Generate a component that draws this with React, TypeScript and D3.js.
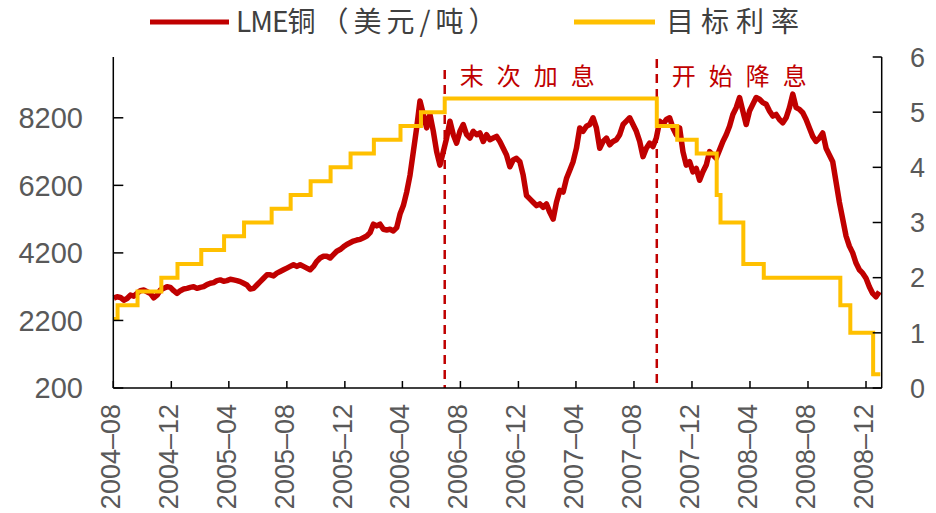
import React from 'react';
import * as d3 from 'd3';

const W = 936;
const H = 513;

// LME copper, weekly (USD/t), first week starting 2004-08-02
const copperStart = '2004-08-02';
const copper2004 = [2860, 2900, 2880, 2800, 2850, 2950, 2920, 3000, 3080, 3100, 3050, 3000, 2870, 2950, 3100, 3150, 3200, 3180, 3080, 3000, 3080, 3130];
const copper2005 = [3150, 3180, 3200, 3150, 3180, 3200, 3260, 3300, 3320, 3380, 3400, 3360, 3380, 3420, 3400, 3380, 3350, 3300, 3250, 3130, 3150, 3250, 3350, 3450, 3550, 3550, 3520, 3600, 3650, 3700, 3750, 3800, 3850, 3800, 3850, 3800, 3750, 3700, 3800, 3950, 4050, 4100, 4100, 4050, 4150, 4250, 4300, 4380, 4450, 4500, 4550, 4580];
const copper2006 = [4600, 4650, 4700, 4800, 5050, 5000, 5050, 4900, 4880, 4900, 4850, 4950, 5350, 5600, 6000, 6500, 7200, 7900, 8700, 8300, 7900, 8300, 7800, 7200, 6800, 7200, 7600, 8100, 7700, 7450, 7800, 8000, 7700, 7600, 7800, 7700, 7750, 7500, 7700, 7550, 7600, 7650, 7500, 7300, 7100, 6750, 6950, 7000, 6900, 6500, 5900, 5800];
const copper2007 = [5700, 5600, 5650, 5550, 5650, 5400, 5200, 5700, 6050, 6000, 6400, 6650, 6900, 7300, 7900, 7800, 7950, 8000, 8200, 7900, 7300, 7500, 7600, 7400, 7500, 7550, 7700, 8000, 8100, 8200, 8000, 7800, 7500, 7050, 7300, 7450, 7350, 7600, 8100, 8000, 8150, 8200, 7900, 7700, 7900, 7200, 6800, 6900, 6600, 6700, 6350, 6600, 6800];
const copper2008 = [7200, 7100, 7000, 7250, 7500, 7700, 7950, 8300, 8500, 8800, 8400, 8000, 8400, 8600, 8800, 8750, 8650, 8600, 8400, 8250, 8300, 8150, 8050, 8200, 8500, 8900, 8500, 8450, 8350, 8150, 7900, 7650, 7500, 7600, 7750, 7300, 7100, 6900, 6300, 5700, 5200, 4700, 4400, 4200, 3900, 3700, 3600, 3450, 3200, 3000, 2900, 3050];

// Fed funds target rate (%)
const rateDates = ['2004-08-01', '2004-08-10', '2004-09-21', '2004-11-10', '2004-12-14', '2005-02-02', '2005-03-22', '2005-05-03', '2005-06-30', '2005-08-09', '2005-09-20', '2005-11-01', '2005-12-13', '2006-01-31', '2006-03-28', '2006-05-10', '2006-06-29', '2007-09-18', '2007-10-31', '2007-12-11', '2008-01-22', '2008-01-30', '2008-03-18', '2008-04-30', '2008-10-08', '2008-10-29', '2008-12-16', '2008-12-31'];
const rateValues = [1.25, 1.5, 1.75, 2.0, 2.25, 2.5, 2.75, 3.0, 3.25, 3.5, 3.75, 4.0, 4.25, 4.5, 4.75, 5.0, 5.25, 4.75, 4.5, 4.25, 3.5, 3.0, 2.25, 2.0, 1.5, 1.0, 0.25, 0.25];

const xTickLabels = ['2004-08', '2004-12', '2005-04', '2005-08', '2005-12', '2006-04', '2006-08', '2006-12', '2007-04', '2007-08', '2007-12', '2008-04', '2008-08', '2008-12'];
const leftTicks = [200, 2200, 4200, 6200, 8200];
const rightTicks = [0, 1, 2, 3, 4, 5, 6];
const eventDates = ['2006-06-29', '2007-09-18'];
const eventLabels = ['末次加息', '开始降息'];
const seriesNameLatin = 'LME';
const seriesNameRest = '铜（美元/吨）';
const seriesName2 = '目标利率';

const parse = d3.timeParse('%Y-%m-%d');
const parseMonth = d3.timeParse('%Y-%m');

const RED = '#C00000';
const YELLOW = '#FFC000';
const TXT = '#595959';

export default function App() {
  const left = 113.3, right = 881.7, top = 57, bottom = 388;
  const x = d3.scaleTime().domain([parse('2004-08-01')!, parse('2009-01-03')!]).range([left, right]);
  const yL = d3.scaleLinear().domain([200, 10000]).range([bottom, top]);
  const yR = d3.scaleLinear().domain([0, 6]).range([bottom, top]);

  const copperVals = [...copper2004, ...copper2005, ...copper2006, ...copper2007, ...copper2008];
  const start = parse(copperStart)!;
  const copper = copperVals.map((v, i) => ({ d: d3.timeDay.offset(start, i * 7), v }));
  const rates = rateDates.map((d, i) => ({ d: parse(d)!, v: rateValues[i] }));

  const copperPath = d3.line<{ d: Date; v: number }>().x(p => x(p.d)).y(p => yL(p.v))(copper) || '';
  const ratePath = d3.line<{ d: Date; v: number }>().x(p => x(p.d)).y(p => yR(p.v)).curve(d3.curveStepAfter)(rates) || '';

  const labelFont = '"Liberation Sans", Arial, sans-serif';
  const cjkFont = '"Noto Sans CJK SC", sans-serif';

  return (
    <svg width={W} height={H} style={{ position: 'absolute', left: 0, top: 0, background: '#fff' }}>
      {/* legend */}
      <line x1={150} x2={229} y1={22} y2={22} stroke={RED} strokeWidth={5} />
      <text x={236} y={32} fontFamily={cjkFont} fontSize={28} fill="#404040">
        <tspan letterSpacing={-1}>{seriesNameLatin}</tspan>
        <tspan letterSpacing={5}>{seriesNameRest}</tspan>
      </text>
      <line x1={574} x2={655} y1={22} y2={22} stroke={YELLOW} strokeWidth={5} />
      <text x={666} y={32} fontFamily={cjkFont} fontSize={28} fill="#404040" letterSpacing={7}>{seriesName2}</text>

      {/* event lines */}
      {eventDates.map((d, i) => (
        <g key={d}>
          <line x1={x(parse(d)!)} x2={x(parse(d)!)} y1={i === 0 ? 70 : 59} y2={bottom} stroke={RED} strokeWidth={2.5} strokeDasharray="9,6" />
          <text x={x(parse(d)!) + 15} y={85} fontFamily={cjkFont} fontSize={24} fill={RED} letterSpacing={13}>{eventLabels[i]}</text>
        </g>
      ))}

      {/* series */}
      <path d={copperPath} fill="none" stroke={RED} strokeWidth={5.5} strokeLinejoin="round" />
      <path d={ratePath} fill="none" stroke={YELLOW} strokeWidth={4} />

      {/* axes */}
      <line x1={left} x2={left} y1={top} y2={bottom} stroke="#000" strokeWidth={1.5} />
      <line x1={right} x2={right} y1={top} y2={bottom} stroke="#000" strokeWidth={1.5} />
      <line x1={left} x2={right} y1={bottom} y2={bottom} stroke="#000" strokeWidth={1.5} />
      {leftTicks.map(t => (
        <g key={'l' + t}>
          <line x1={left} x2={left + 10} y1={yL(t)} y2={yL(t)} stroke="#000" strokeWidth={1.5} />
          <text x={83} y={yL(t)} dy="0.36em" textAnchor="end" fontFamily={labelFont} fontSize={29} fill={TXT}>{t}</text>
        </g>
      ))}
      {rightTicks.map(t => (
        <g key={'r' + t}>
          <line x1={right - 9} x2={right} y1={yR(t)} y2={yR(t)} stroke="#000" strokeWidth={1.5} />
          <text x={910} y={yR(t)} dy="0.36em" textAnchor="start" fontFamily={labelFont} fontSize={27} fill={TXT}>{t}</text>
        </g>
      ))}
      {xTickLabels.map(l => {
        const xx = x(parseMonth(l)!);
        return (
          <g key={l}>
            <line x1={xx} x2={xx} y1={bottom} y2={bottom - 7} stroke="#000" strokeWidth={1.5} />
            <text transform={`translate(${xx - 3},404) rotate(-90)`} dy="0.36em" textAnchor="end" fontFamily={labelFont} fontSize={27} fill={TXT}>{l.replace('-', '–')}</text>
          </g>
        );
      })}
    </svg>
  );
}
